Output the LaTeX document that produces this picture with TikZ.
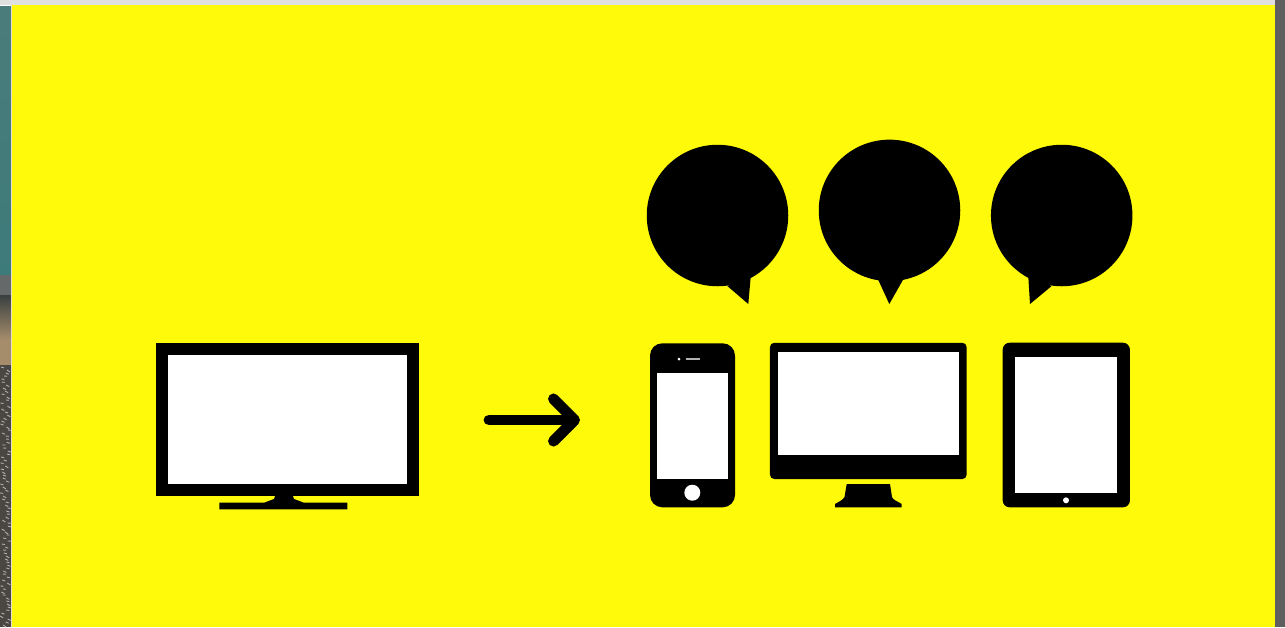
\documentclass[tikz,border=0pt]{standalone}
\usetikzlibrary{positioning,arrows.meta,calc}
\definecolor{wall}{HTML}{FFFA0A}
\definecolor{topbar}{HTML}{E0E0E0}
\definecolor{sidebar}{HTML}{5F5F5F}
\definecolor{teal}{HTML}{3D7B7A}
\definecolor{tealtop}{HTML}{4A7C7B}
\definecolor{road}{HTML}{66696A}
\definecolor{dusk}{HTML}{3A4040}
\definecolor{sand}{HTML}{A58D6C}
\definecolor{gravel}{HTML}{4A4642}
\def\px{.02cm}
\tikzset{
  body/.style={fill=black,inner sep=0pt,outer sep=0pt},
  screen/.style={fill=white,inner sep=0pt,outer sep=0pt},
  bubble/.style={circle,fill=black,inner sep=0pt,outer sep=0pt,minimum size=141.5*\px},
  hole/.style={circle,fill=white,inner sep=0pt,outer sep=0pt}
}
\begin{document}
\begin{tikzpicture}[x=\px,y=-\px]
  \useasboundingbox (0,0) rectangle (1285,627);
  % backdrop
  \fill[wall] (0,0) rectangle (1285,627);
  \fill[top color=tealtop,bottom color=teal] (0,5) rectangle (11,275);
  \fill[road] (0,275) rectangle (11,295);
  \fill[top color=dusk,bottom color=sand] (0,295) rectangle (11,340);
  \fill[sand] (0,340) rectangle (11,365);
  \fill[gravel] (0,365) rectangle (11,627);
  \pgfmathsetseed{7}
  \foreach \y in {367,370,...,625}
    \draw[gray!60!white,line width=.5pt] ({rnd*8},\y) -- +(3,{rnd*2});
  \fill[white!70!sand] (11,5) rectangle (12,627);
  \fill[white] (0,5) rectangle (11,6);
  \fill[topbar] (0,0) rectangle (1285,5);
  \fill[sidebar] (1275,0) rectangle (1285,627);
  % television
  \node[body,minimum width=263*\px,minimum height=153.3*\px] (tv) at (287.2,419.4){};
  \node[screen,minimum width=239*\px,minimum height=128.7*\px] (tvscreen) at (287.2,419.7){};
  \fill[black] (275,496) -- (293,496) -- (294,499) -- (304,502.7) -- (347.3,502.7) -- (347.3,509.3) -- (219.3,509.3) -- (219.3,502.7) -- (264,502.7) -- (274,499) -- cycle;
  % arrow
  \coordinate (arrowstart) at (489,420);
  \coordinate (arrowtip) at (580,420);
  \draw[line width=6.2pt,line cap=round,-{Straight Barb[length=12pt,width=24pt,round]}] (arrowstart) -- (arrowtip);
  % phone
  \node[body,rounded corners=7pt,minimum width=85*\px,minimum height=164*\px] (phone) at (692.5,425.3){};
  \node[screen,minimum width=71.6*\px,minimum height=106*\px] (phonescreen) at (692.5,425.7){};
  \node[hole,minimum size=16*\px] (phonebutton) at (692.3,492.7){};
  \node[hole,minimum size=3*\px] (phonedot) at (679,359){};
  \node[screen,fill=white!70!black,minimum width=14*\px,minimum height=2.5*\px] (phonespeaker) at (693,359){};
  % monitor
  \node[body,rounded corners=2.5pt,minimum width=196.7*\px,minimum height=136.3*\px] (monitor) at (868.3,410.9){};
  \node[screen,minimum width=181.3*\px,minimum height=103*\px] (monitorscreen) at (868.7,403.5){};
  \fill[black] (846.7,484) -- (890,484) -- (892,497) .. controls (893,500) and (897,501) .. (901.7,504) -- (901.7,507.3) -- (835,507.3) -- (835,504) .. controls (840,501) and (843,500) .. (844.5,497) -- cycle;
  % tablet
  \node[body,rounded corners=4pt,minimum width=127.3*\px,minimum height=164.6*\px] (tablet) at (1066.3,425){};
  \node[screen,minimum width=101.4*\px,minimum height=136.6*\px] (tabletscreen) at (1066,425){};
  \node[hole,minimum size=6*\px] (tabletbutton) at (1066,500.3){};
  % speech bubbles
  \node[bubble] (bubblea) at (717.5,215.5){};
  \node[bubble] (bubbleb) at (889.5,210.4){};
  \node[bubble] (bubblec) at (1061.7,215.5){};
  \fill[black] (727.3,286) -- (748.3,304) -- (750.7,276.7) -- cycle;
  \fill[black] (878.3,280) -- (889.3,304) -- (903.3,279.3) -- cycle;
  \fill[black] (1028.3,276.7) -- (1030,304) -- (1051.7,286) -- cycle;
\end{tikzpicture}
\end{document}
